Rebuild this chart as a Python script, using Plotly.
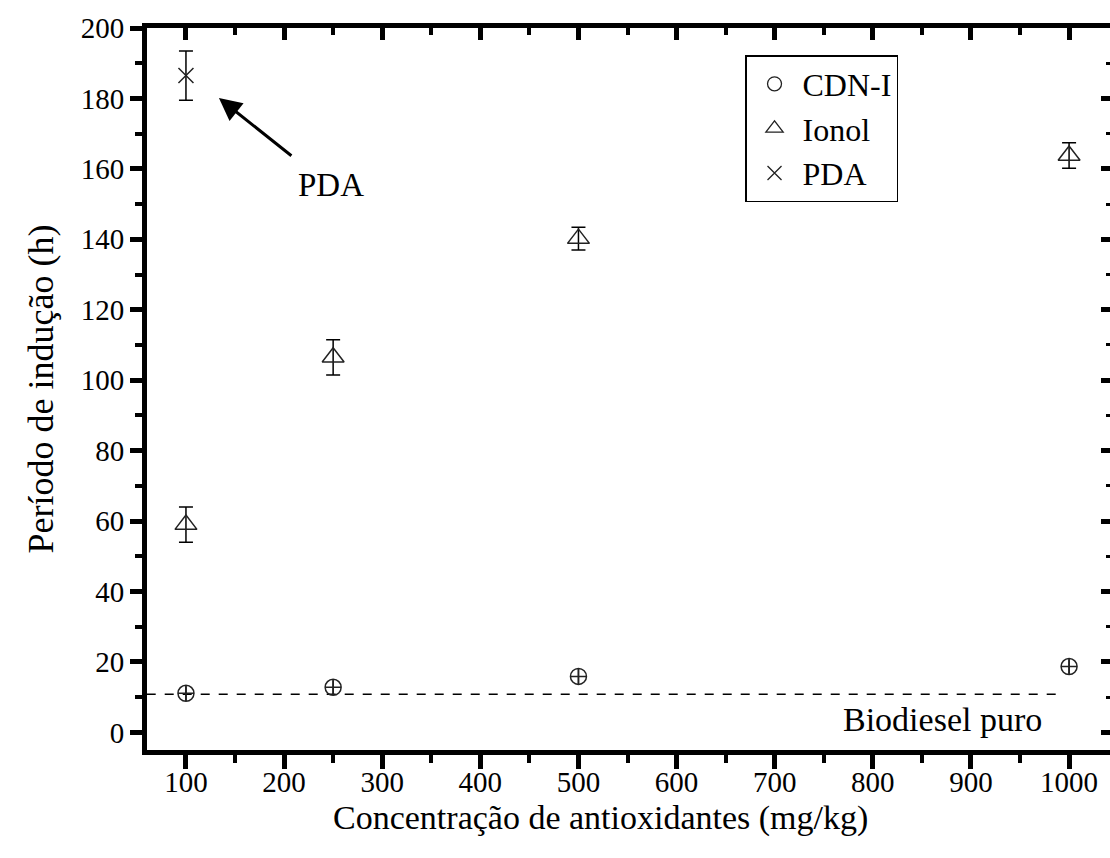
import plotly.graph_objects as go

# ---- data ----
conc = [100, 250, 500, 1000]
cdn_y = [11.1, 12.8, 15.9, 18.7]
cdn_err = [2.0, 2.0, 2.0, 2.0]
ionol_y = [59.0, 106.5, 140.2, 163.8]
ionol_err = [5.0, 5.0, 3.2, 3.6]
pda_x = [100]
pda_y = [186.5]
pda_err = [7.0]
biodiesel_x = [60, 995]
biodiesel_y = [10.8, 10.8]

y_ticks = list(range(0, 201, 20))
x_ticks = list(range(100, 1001, 100))

FONT = "'Times New Roman', 'Liberation Serif', Tinos, serif"
MK = "#222222"

fig = go.Figure()

err_style = dict(type="data", visible=True, color="black", thickness=1.5, width=7)

fig.add_trace(go.Scatter(x=biodiesel_x, y=biodiesel_y, mode="lines",
                         line=dict(color="black", width=1.5, dash="dash"),
                         showlegend=False, hoverinfo="skip"))

fig.add_trace(go.Scatter(x=conc, y=cdn_y, mode="markers", showlegend=False,
                         marker=dict(symbol="circle-cross-open", size=16, color=MK,
                                     line=dict(width=1.5, color=MK)),
                         error_y=dict(array=cdn_err, **{**err_style, "width": 0})))
fig.add_trace(go.Scatter(x=conc, y=ionol_y, mode="markers", showlegend=False,
                         marker=dict(symbol="triangle-up-open", size=19, color=MK,
                                     line=dict(width=1.5, color=MK)),
                         error_y=dict(array=ionol_err, **err_style)))
fig.add_trace(go.Scatter(x=pda_x, y=pda_y, mode="markers", showlegend=False,
                         marker=dict(symbol="x-thin-open", size=15, color=MK,
                                     line=dict(width=1.5, color=MK)),
                         error_y=dict(array=pda_err, **err_style)))

# legend-only traces
for name, sym, sz in [("CDN-I", "circle-open", 14), ("Ionol", "triangle-up-open", 15),
                      ("PDA", "x-thin-open", 14)]:
    fig.add_trace(go.Scatter(x=[None], y=[None], mode="markers", name=name,
                             marker=dict(symbol=sym, size=sz, color=MK,
                                         line=dict(width=1.3, color=MK))))

axis_font = dict(family=FONT, size=29, color="black")

fig.update_layout(
    width=1110, height=858,
    margin=dict(l=147, r=0, t=28, b=108),
    paper_bgcolor="white", plot_bgcolor="rgba(0,0,0,0)",
    font=dict(family=FONT, color="black"),
    xaxis=dict(range=[60.3, 1041.7], tickvals=x_ticks, ticks="outside",
               ticklen=14, tickwidth=5, tickcolor="black",
               showline=True, linewidth=5, linecolor="black", mirror=True,
               showgrid=False, zeroline=False, tickfont=axis_font,
               ticklabelstandoff=-12,
               minor=dict(dtick=50, tick0=50, ticks="outside", ticklen=8,
                          tickwidth=4, tickcolor="black", showgrid=False)),
    yaxis=dict(range=[-5, 200], tickvals=y_ticks, ticks="outside",
               ticklen=12, tickwidth=5, tickcolor="black",
               showline=True, linewidth=5, linecolor="black", mirror=False,
               showgrid=False, zeroline=False, tickfont=axis_font,
               minor=dict(dtick=10, tick0=0, ticks="outside", ticklen=7,
                          tickwidth=4, tickcolor="black", showgrid=False),
               title=dict(text="Período de indução (h)",
                          font=dict(family=FONT, size=36, color="black"), standoff=18)),
    yaxis2=dict(range=[-5, 200], overlaying="y", side="right",
                anchor="free", position=1.0,
                tickvals=y_ticks,
                ticks="inside", ticklen=9, tickwidth=5, tickcolor="black",
                showticklabels=False, showline=False, showgrid=False, zeroline=False,
                minor=dict(dtick=10, tick0=0, ticks="inside", ticklen=4,
                           tickwidth=3, tickcolor="black", showgrid=False)),
    # separate, coincident subplot carrying the inward top ticks
    xaxis3=dict(range=[60.3, 1041.7], anchor="y3", side="top", domain=[0, 1],
                tickvals=x_ticks,
                ticks="inside", ticklen=12, tickwidth=5, tickcolor="black",
                showticklabels=False, showline=False, showgrid=False, zeroline=False,
                minor=dict(dtick=50, tick0=50, ticks="inside", ticklen=7,
                           tickwidth=4, tickcolor="black", showgrid=False)),
    yaxis3=dict(range=[0, 1], anchor="x3", domain=[0, 1], showticklabels=False,
                ticks="", showline=False, showgrid=False, zeroline=False),
    legend=dict(x=0.621, y=0.9626, xanchor="left", yanchor="top",
                bordercolor="black", borderwidth=1.5, bgcolor="white",
                font=dict(family=FONT, size=32, color="black"),
                itemwidth=46, tracegroupgap=0),
    showlegend=True,
)

# dummy traces to activate the extra axes
fig.add_trace(go.Scatter(x=[500], y=[-100], xaxis="x", yaxis="y2", mode="markers",
                         marker=dict(opacity=0), showlegend=False, hoverinfo="skip"))
fig.add_trace(go.Scatter(x=[500], y=[-5], xaxis="x3", yaxis="y3", mode="markers",
                         marker=dict(opacity=0), showlegend=False, hoverinfo="skip"))

fig.add_annotation(x=133.6, y=180.1, ax=209, ay=163.4, axref="x", ayref="y",
                   xref="x", yref="y", text="", showarrow=True,
                   arrowhead=2, arrowsize=1.5, arrowwidth=3, arrowcolor="black")
fig.add_annotation(x=248, y=155.5, xref="x", yref="y", text="PDA", showarrow=False,
                   font=dict(family=FONT, size=33, color="black"))
fig.add_annotation(x=974, y=3.7, xref="x", yref="y", text="Biodiesel puro",
                   showarrow=False, xanchor="right",
                   font=dict(family=FONT, size=34, color="black"))
fig.add_annotation(x=0.471, y=-0.094, xref="paper", yref="paper",
                   text="Concentração de antioxidantes (mg/kg)", showarrow=False,
                   xanchor="center", yanchor="middle",
                   font=dict(family=FONT, size=34, color="black"))

fig.write_html("out.html")
